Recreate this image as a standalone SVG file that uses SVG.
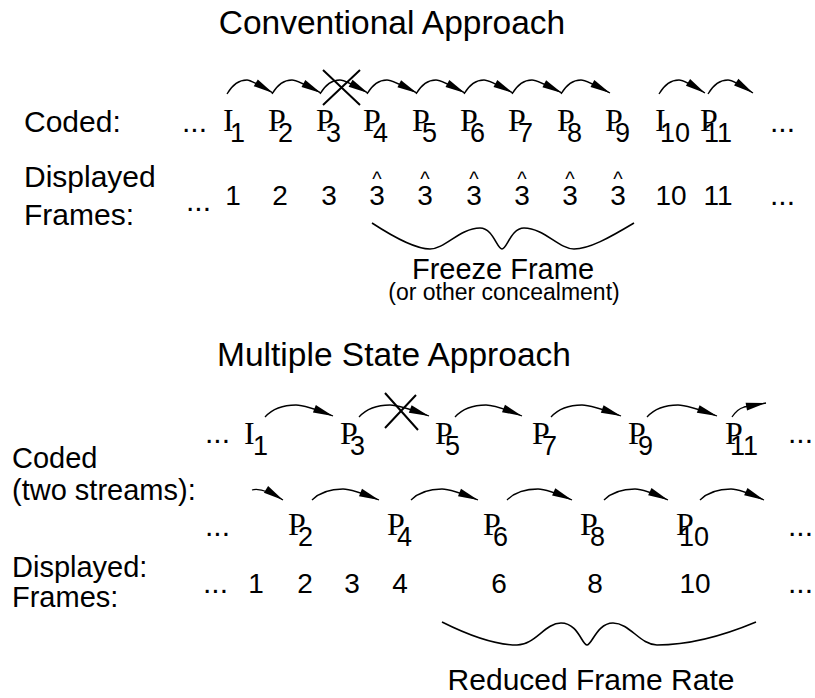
<svg xmlns="http://www.w3.org/2000/svg" width="815" height="698" viewBox="0 0 815 698">
<style>
text { fill:#000; }
.lab { font-family:"Liberation Sans", Arial, sans-serif; font-size:30px; }
.ttl { font-family:"Liberation Sans", Arial, sans-serif; font-size:33.5px; text-anchor:middle; }
.fr { font-family:"Liberation Serif", "Times New Roman", serif; font-size:32px; }
.sub { font-family:"Liberation Sans", Arial, sans-serif; font-size:27px; }
.num { font-family:"Liberation Sans", Arial, sans-serif; font-size:28px; text-anchor:middle; }
.hat { font-family:"Liberation Sans", Arial, sans-serif; font-size:20px; text-anchor:middle; }
.arc { fill:none; stroke:#000; stroke-width:1.3; marker-end:url(#ah); }
.x { stroke:#000; stroke-width:2; fill:none; }
.brace { fill:none; stroke:#000; stroke-width:1.6; }
</style>
<defs>
<marker id="ah" markerUnits="userSpaceOnUse" markerWidth="21" markerHeight="9" refX="20" refY="4" orient="auto" overflow="visible">
<path d="M0,0 L20,4 L0,8 Z" fill="#000"/>
</marker>
</defs>

<!-- Section 1 -->
<text class="ttl" x="392" y="34">Conventional Approach</text>
<g id="c-label"><text class="lab" x="24" y="132">Coded:</text></g>
<g id="c-dots-l"><text class="lab" x="182" y="132">...</text></g>
<g id="c-I1"><text class="fr" x="223" y="131">I</text><text class="sub" x="230" y="142">1</text></g>
<g id="c-P2"><text class="fr" x="268" y="131">P</text><text class="sub" x="278" y="142">2</text></g>
<g id="c-P3"><text class="fr" x="316" y="131">P</text><text class="sub" x="326" y="142">3</text></g>
<g id="c-P4"><text class="fr" x="363" y="131">P</text><text class="sub" x="373" y="142">4</text></g>
<g id="c-P5"><text class="fr" x="412" y="131">P</text><text class="sub" x="422" y="142">5</text></g>
<g id="c-P6"><text class="fr" x="460" y="131">P</text><text class="sub" x="470" y="142">6</text></g>
<g id="c-P7"><text class="fr" x="508" y="131">P</text><text class="sub" x="518" y="142">7</text></g>
<g id="c-P8"><text class="fr" x="557" y="131">P</text><text class="sub" x="567" y="142">8</text></g>
<g id="c-P9"><text class="fr" x="605" y="131">P</text><text class="sub" x="615" y="142">9</text></g>
<g id="c-I10"><text class="fr" x="655" y="131">I</text><text class="sub" x="660" y="142">10</text></g>
<g id="c-P11"><text class="fr" x="700" y="131">P</text><text class="sub" x="704" y="142">11</text></g>
<g id="c-dots-r"><text class="lab" x="770" y="132">...</text></g>

<g id="d-label"><text class="lab" x="24" y="187">Displayed</text><text class="lab" x="24" y="225">Frames:</text></g>
<g id="d-dots-l"><text class="lab" x="186" y="211">...</text></g>
<g id="d-1"><text class="num" x="233" y="205">1</text></g>
<g id="d-2"><text class="num" x="280" y="205">2</text></g>
<g id="d-3"><text class="num" x="329" y="205">3</text></g>
<g id="d-3h1"><text class="hat" x="377" y="186">^</text><text class="num" x="377" y="205">3</text></g>
<g id="d-3h2"><text class="hat" x="425" y="186">^</text><text class="num" x="425" y="205">3</text></g>
<g id="d-3h3"><text class="hat" x="474" y="186">^</text><text class="num" x="474" y="205">3</text></g>
<g id="d-3h4"><text class="hat" x="522" y="186">^</text><text class="num" x="522" y="205">3</text></g>
<g id="d-3h5"><text class="hat" x="570" y="186">^</text><text class="num" x="570" y="205">3</text></g>
<g id="d-3h6"><text class="hat" x="618" y="186">^</text><text class="num" x="618" y="205">3</text></g>
<g id="d-10"><text class="num" x="671" y="205">10</text></g>
<g id="d-11"><text class="num" x="718" y="205">11</text></g>
<g id="d-dots-r"><text class="lab" x="770" y="205">...</text></g>

<g id="brace1">
<path class="brace" d="M372,223 C395,238 415,249 430,249 C445,249 460,228 480,228 C493,228 497,249 502,249 C507,249 511,228 524,228 C544,228 559,249 574,249 C589,249 609,238 634,223"/>
</g>
<g id="freeze-label">
<text class="lab" x="503" y="279" style="text-anchor:middle;font-size:29px">Freeze Frame</text>
<text class="lab" x="504" y="300" style="text-anchor:middle;font-size:23px">(or other concealment)</text>
</g>

<!-- Section 2 -->
<text class="ttl" x="394" y="366">Multiple State Approach</text>
<g id="m-label"><text class="lab" x="12" y="468" style="font-size:29px">Coded</text><text class="lab" x="12" y="500" style="font-size:29px">(two streams):</text></g>
<g id="a-dots-l"><text class="lab" x="205" y="443">...</text></g>
<g id="a-I1"><text class="fr" x="244" y="444">I</text><text class="sub" x="253" y="455">1</text></g>
<g id="a-P3"><text class="fr" x="340" y="444">P</text><text class="sub" x="350" y="455">3</text></g>
<g id="a-P5"><text class="fr" x="435" y="444">P</text><text class="sub" x="445" y="455">5</text></g>
<g id="a-P7"><text class="fr" x="532" y="444">P</text><text class="sub" x="542" y="455">7</text></g>
<g id="a-P9"><text class="fr" x="628" y="444">P</text><text class="sub" x="638" y="455">9</text></g>
<g id="a-P11"><text class="fr" x="725" y="444">P</text><text class="sub" x="730" y="455">11</text></g>
<g id="a-dots-r"><text class="lab" x="788" y="443">...</text></g>

<g id="b-dots-l"><text class="lab" x="205" y="536">...</text></g>
<g id="b-P2"><text class="fr" x="288" y="535">P</text><text class="sub" x="298" y="546">2</text></g>
<g id="b-P4"><text class="fr" x="387" y="535">P</text><text class="sub" x="397" y="546">4</text></g>
<g id="b-P6"><text class="fr" x="483" y="535">P</text><text class="sub" x="493" y="546">6</text></g>
<g id="b-P8"><text class="fr" x="580" y="535">P</text><text class="sub" x="590" y="546">8</text></g>
<g id="b-P10"><text class="fr" x="676" y="535">P</text><text class="sub" x="679" y="546">10</text></g>
<g id="b-dots-r"><text class="lab" x="788" y="536">...</text></g>

<g id="m-disp-label"><text class="lab" x="12" y="577" style="font-size:29px">Displayed:</text><text class="lab" x="12" y="607" style="font-size:29px">Frames:</text></g>
<g id="e-dots-l"><text class="lab" x="203" y="593">...</text></g>
<g id="e-1"><text class="num" x="256" y="593">1</text></g>
<g id="e-2"><text class="num" x="305" y="593">2</text></g>
<g id="e-3"><text class="num" x="352" y="593">3</text></g>
<g id="e-4"><text class="num" x="400" y="593">4</text></g>
<g id="e-6"><text class="num" x="499" y="593">6</text></g>
<g id="e-8"><text class="num" x="595" y="593">8</text></g>
<g id="e-10"><text class="num" x="695" y="593">10</text></g>
<g id="e-dots-r"><text class="lab" x="788" y="593">...</text></g>

<g id="brace2">
<path class="brace" d="M442,622 C470,636 495,645 517,645 C535,645 545,623 561,623 C578,623 582,645 587,645 C592,645 597,623 613,623 C630,623 640,645 657,645 C690,645 725,635 756,622"/>
</g>
<g id="reduced-label"><text class="lab" x="591" y="690" style="text-anchor:middle">Reduced Frame Rate</text></g>

<g id="connectors">
<path class="arc" d="M227,94 Q235,80 247,80 Q251,80 273,93"/>
<path class="arc" d="M272,94 Q280,80 292,80 Q297,80 321,93"/>
<path class="arc" d="M320,94 Q328,80 340,80 Q345,80 368,93"/>
<path class="arc" d="M367,94 Q375,80 387,80 Q392,80 417,93"/>
<path class="arc" d="M416,94 Q424,80 436,80 Q441,80 465,93"/>
<path class="arc" d="M464,94 Q472,80 484,80 Q489,80 513,93"/>
<path class="arc" d="M512,94 Q520,80 532,80 Q537,80 562,93"/>
<path class="arc" d="M561,94 Q569,80 581,80 Q586,80 610,93"/>
<path class="arc" d="M659,94 Q667,80 679,80 Q684,80 705,93"/>
<path class="arc" d="M708,94 Q716,80 728,80 Q733,80 753,93"/>
<path class="x" d="M323,70 L360,105 M360,70 L323,105"/>

<path class="arc" d="M265,417 Q276,405 296,405 Q305,405 333,416"/>
<path class="arc" d="M359,417 Q370,405 390,405 Q399,405 429,416"/>
<path class="arc" d="M455,417 Q466,405 486,405 Q495,405 522,416"/>
<path class="arc" d="M551,417 Q562,405 582,405 Q591,405 621,416"/>
<path class="arc" d="M647,417 Q658,405 678,405 Q687,405 717,416"/>
<path class="arc" d="M732,417 Q737,409 744,407 L766,403"/>
<path class="x" d="M385,393 L418,430 M416,395 L385,428"/>

<path class="arc" d="M252,490 Q262,487 283,500"/>
<path class="arc" d="M312,500 Q323,489 343,489 Q352,489 379,500"/>
<path class="arc" d="M411,500 Q422,489 442,489 Q451,489 478,500"/>
<path class="arc" d="M507,500 Q518,489 538,489 Q547,489 572,500"/>
<path class="arc" d="M604,500 Q615,489 635,489 Q644,489 668,500"/>
<path class="arc" d="M700,500 Q711,489 731,489 Q740,489 764,500"/>
</g>
</svg>
